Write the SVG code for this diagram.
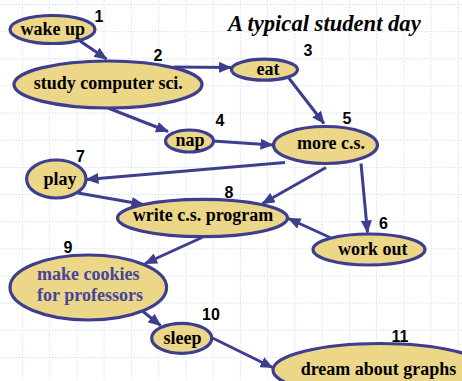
<svg xmlns="http://www.w3.org/2000/svg" width="462" height="381" viewBox="0 0 462 381">
  <defs>
    <style>
      .node ellipse { fill: #ecd688; stroke: #3e3e8e; stroke-width: 3.2; }
      .node text { font-family: "Liberation Serif", "Times New Roman", serif; font-weight: bold; font-size: 18px; fill: #000; text-anchor: middle; }
      .node text.blue { fill: #45459a; }
      .num { font-family: "Liberation Sans", Arial, sans-serif; font-weight: bold; font-size: 16px; fill: #000; text-anchor: middle; }
      .title { font-family: "Liberation Serif", "Times New Roman", serif; font-weight: bold; font-style: italic; font-size: 22.6px; fill: #000; }
      #edges path { fill: none; stroke: #3e3e8e; stroke-width: 3; marker-end: url(#arrow); }
      .grid { fill: none; stroke: #c3cdf0; stroke-width: 1; stroke-dasharray: 1 2; }
    </style>
    <marker id="arrow" markerUnits="userSpaceOnUse" markerWidth="13" markerHeight="11" refX="12" refY="5.5" orient="auto">
      <path d="M0,0 L13,5.5 L0,11 z" fill="#3e3e8e"/>
    </marker>
    <pattern id="gridTile" patternUnits="userSpaceOnUse" x="21.9" y="4" width="27.25" height="27.15">
      <path class="grid" d="M0.5,0 V27.15 M0,0.5 H27.25"/>
    </pattern>
  </defs>

  <!-- background with dotted grid -->
  <rect width="462" height="381" fill="#ffffff"/>
  <rect width="462" height="381" fill="url(#gridTile)"/>

  <text class="title" x="228" y="30.5">A typical student day</text>

  <!-- connectors -->
  <g id="edges">
    <path d="M80,41 L106.5,59"/>
    <path d="M174,67 L231,67.5"/>
    <path d="M108,108 L168,131.5"/>
    <path d="M288,77 L324,123.5"/>
    <path d="M213,141 L272.5,145"/>
    <path d="M285,162.5 L86.5,179.5"/>
    <path d="M78,193 L143.5,204.5"/>
    <path d="M326,167.5 L262.5,203.5"/>
    <path d="M361,163.5 L367.5,232.5"/>
    <path d="M330,237.5 L288.5,218.5"/>
    <path d="M202,237.5 L145,263.5"/>
    <path d="M143,311.5 L160.5,325.5"/>
    <path d="M211.5,337.5 L272.5,367.5"/>
  </g>

  <g id="n1" class="node">
    <ellipse cx="52.5" cy="29.5" rx="42.5" ry="14"/>
    <text x="52.8" y="34.5">wake up</text>
  </g>
  <text class="num" x="99" y="21.7">1</text>

  <g id="n2" class="node">
    <ellipse cx="108" cy="84.5" rx="94" ry="23.5"/>
    <text x="108.3" y="88.8">study computer sci.</text>
  </g>
  <text class="num" x="158" y="61">2</text>

  <g id="n3" class="node">
    <ellipse cx="264.5" cy="69.7" rx="33" ry="10.5"/>
    <text x="268" y="75">eat</text>
  </g>
  <text class="num" x="308" y="56">3</text>

  <g id="n4" class="node">
    <ellipse cx="189.5" cy="141" rx="24" ry="11"/>
    <text x="190" y="146">nap</text>
  </g>
  <text class="num" x="220" y="126">4</text>

  <g id="n5" class="node">
    <ellipse cx="325.5" cy="145" rx="52" ry="18.5"/>
    <text x="331" y="148.5">more c.s.</text>
  </g>
  <text class="num" x="347" y="124">5</text>

  <g id="n6" class="node">
    <ellipse cx="369" cy="249.5" rx="56" ry="15.5"/>
    <text x="372.7" y="254.5">work out</text>
  </g>
  <text class="num" x="383.5" y="229">6</text>

  <g id="n7" class="node">
    <ellipse cx="56.3" cy="179" rx="29.7" ry="19"/>
    <text x="60" y="184.5">play</text>
  </g>
  <text class="num" x="80.5" y="162.3">7</text>

  <g id="n8" class="node">
    <ellipse cx="202.5" cy="218" rx="85" ry="18.7"/>
    <text x="203" y="220.5">write c.s. program</text>
  </g>
  <text class="num" x="229" y="198">8</text>

  <g id="n9" class="node">
    <ellipse cx="88.3" cy="287.5" rx="78.3" ry="32.5"/>
    <text class="blue" x="88.3" y="279.5">make cookies</text>
    <text class="blue" x="90" y="301">for professors</text>
  </g>
  <text class="num" x="68" y="252.7">9</text>

  <g id="n10" class="node">
    <ellipse cx="181.7" cy="338.3" rx="30" ry="15"/>
    <text x="182.5" y="343.5">sleep</text>
  </g>
  <text class="num" x="211" y="320">10</text>

  <g id="n11" class="node">
    <ellipse cx="380" cy="370" rx="107" ry="26.5"/>
    <text x="378.5" y="374.5">dream about graphs</text>
  </g>
  <text class="num" x="400" y="341.7">11</text>
</svg>
